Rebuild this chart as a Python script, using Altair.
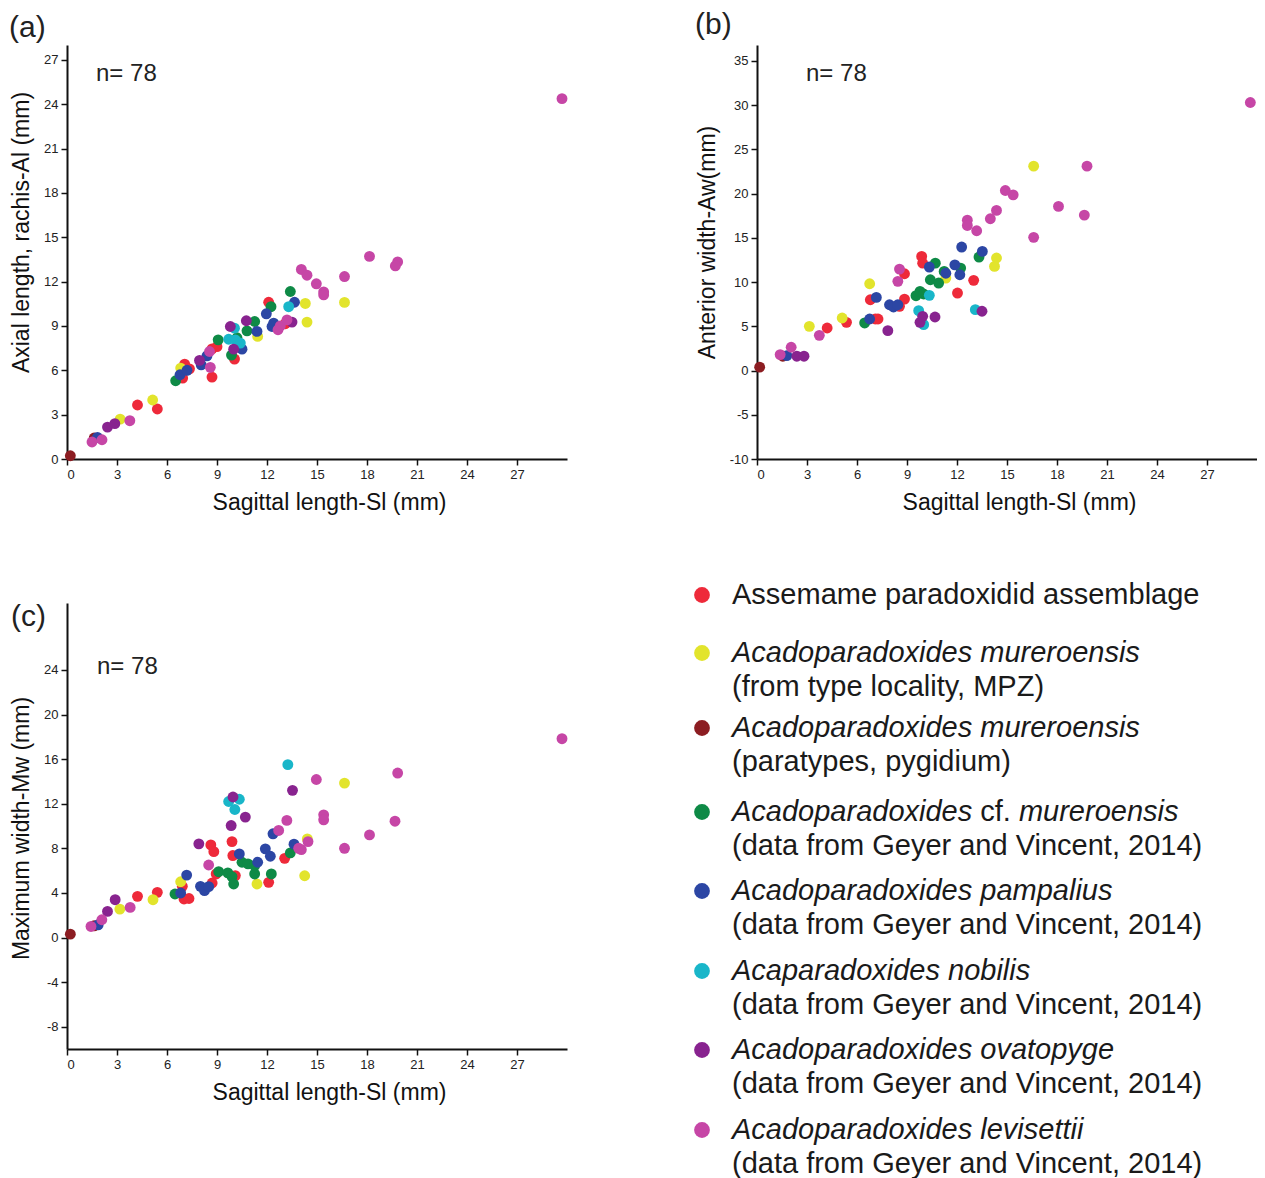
import altair as alt
import pandas as pd

# ---------------- categories ----------------
CATEGORIES = [
    "Assemame paradoxidid assemblage",
    "A. mureroensis (MPZ)",
    "A. mureroensis (paratypes)",
    "A. cf. mureroensis",
    "A. pampalius",
    "A. nobilis",
    "A. ovatopyge",
    "A. levisettii",
]
COLORS = ["#ee2a3a", "#e2e42c", "#8c1d22", "#0e8a46", "#2c46a4", "#19b6c9", "#88238f", "#c646a6"]

# ---------------- panel (a): Sl vs Al (per category) ----------------
A_SL = [
    [4.23, 5.42, 6.94, 7.06, 7.35, 8.7, 9.0, 8.7, 10.05, 12.1, 13.1],
    [3.19, 5.14, 6.82, 11.44, 14.3, 14.4, 16.65],
    [0.2, 1.63],
    [6.52, 9.07, 9.87, 10.8, 11.26, 12.24, 13.4, 10.2],
    [1.83, 6.78, 7.2, 8.05, 8.4, 10.5, 11.4, 11.96, 12.3, 12.4, 13.65],
    [9.7, 10.05, 10.1, 10.4, 13.3],
    [2.43, 2.87, 7.95, 9.8, 10.0, 10.76, 13.5],
    [1.5, 2.1, 3.77, 8.55, 8.6, 12.66, 12.8, 13.2, 14.06, 14.4, 14.96, 15.4, 15.4,
     16.65, 18.15, 19.84, 19.7, 29.7],
]
A_AL = [
    [3.65, 3.38, 5.47, 6.42, 6.1, 7.45, 7.6, 5.54, 6.76, 10.6, 9.15],
    [2.7, 3.99, 6.15, 8.29, 10.52, 9.26, 10.59],
    [0.22, 1.42],
    [5.29, 8.06, 7.03, 8.67, 9.3, 10.3, 11.33, 8.2],
    [1.46, 5.7, 6.0, 6.37, 6.98, 7.43, 8.63, 9.82, 8.96, 9.19, 10.6],
    [8.1, 8.85, 8.06, 7.84, 10.3],
    [2.16, 2.39, 6.67, 8.96, 7.43, 9.35, 9.26],
    [1.15, 1.3, 2.59, 7.27, 6.2, 8.74, 9.0, 9.41, 12.82, 12.43, 11.85, 11.3, 11.1,
     12.34, 13.7, 13.33, 13.06, 24.37],
]

# ---------------- panel (b): Sl vs Aw ----------------
B_SL = [
    [4.21, 5.37, 7.1, 7.26, 6.8, 8.55, 8.85, 8.85, 9.88, 9.94, 12.03, 13.0],
    [3.14, 5.11, 6.76, 11.33, 14.37, 14.25, 16.6],
    [0.16, 1.55],
    [6.46, 9.54, 9.78, 10.0, 10.4, 10.7, 10.9, 11.23, 12.22, 13.32],
    [1.79, 6.76, 7.16, 7.95, 8.19, 8.45, 10.34, 11.33, 11.87, 12.17, 12.28, 13.52],
    [9.7, 10.34, 10.0, 13.1],
    [2.39, 2.82, 7.85, 9.78, 9.94, 10.68, 13.5],
    [1.39, 2.05, 3.74, 8.45, 8.55, 12.62, 12.62, 13.18, 14.0, 14.37, 14.9, 15.37,
     16.6, 18.09, 19.64, 19.8, 29.6],
]
B_AW = [
    [4.81, 5.45, 5.83, 5.83, 8.0, 7.26, 8.08, 10.94, 12.9, 12.14, 8.76, 10.2],
    [5.0, 5.94, 9.81, 10.45, 12.72, 11.77, 23.1],
    [0.38, 1.62],
    [5.38, 8.46, 8.95, 8.65, 10.26, 12.14, 9.89, 11.2, 11.58, 12.83],
    [1.69, 5.83, 8.27, 7.44, 7.18, 7.44, 11.7, 11.0, 11.95, 10.83, 13.96, 13.47],
    [6.77, 8.5, 5.19, 6.88],
    [1.62, 1.62, 4.51, 5.45, 6.13, 6.05, 6.7],
    [1.8, 2.63, 3.98, 10.08, 11.47, 17.0, 16.4, 15.8, 17.16, 18.1, 20.35, 19.86,
     15.06, 18.55, 17.57, 23.1, 30.3],
]

# ---------------- panel (c): Sl vs Mw ----------------
C_SL = [
    [4.23, 5.42, 6.92, 7.02, 7.32, 8.71, 8.63, 8.81, 8.95, 10.1, 9.9, 9.95, 12.1, 13.06],
    [3.17, 5.16, 6.82, 11.4, 14.42, 14.26, 16.65],
    [0.2, 1.63],
    [6.48, 9.1, 9.65, 9.9, 10.0, 10.5, 10.86, 11.26, 11.26, 12.26, 13.4],
    [1.87, 6.82, 7.18, 8.01, 8.25, 8.5, 10.34, 11.44, 11.9, 12.2, 12.36, 13.62],
    [9.7, 10.07, 10.34, 13.25],
    [2.43, 2.89, 7.91, 9.85, 9.96, 10.7, 13.53],
    [1.44, 2.09, 3.79, 8.5, 12.7, 13.19, 13.9, 14.06, 14.46, 14.96, 15.4, 15.4,
     16.65, 18.15, 19.68, 19.84, 29.7],
]
C_MW = [
    [3.69, 4.05, 4.59, 3.45, 3.5, 4.89, 8.3, 7.7, 5.7, 5.55, 8.6, 7.35, 4.95, 7.1],
    [2.55, 3.39, 5.0, 4.8, 8.84, 5.54, 13.85],
    [0.3, 1.05],
    [3.9, 5.9, 5.79, 5.46, 4.8, 6.75, 6.6, 6.45, 5.7, 5.7, 7.59],
    [1.14, 3.99, 5.6, 4.59, 4.2, 4.56, 7.5, 6.75, 7.95, 7.29, 9.3, 8.37],
    [12.2, 11.48, 12.4, 15.5],
    [2.34, 3.39, 8.4, 10.04, 12.6, 10.8, 13.2],
    [0.99, 1.59, 2.7, 6.5, 9.6, 10.5, 8.0, 7.88, 8.6, 14.17, 11.0, 10.55, 8.0,
     9.2, 10.43, 14.75, 17.83],
]

X_TICKS = [0, 3, 6, 9, 12, 15, 18, 21, 24, 27]
A_TICKS = [0, 3, 6, 9, 12, 15, 18, 21, 24, 27]
B_TICKS = [-10, -5, 0, 5, 10, 15, 20, 25, 30, 35]
C_TICKS = [-8, -4, 0, 4, 8, 12, 16, 20, 24]
N_LABEL = "n= 78"

# ---------------- legend text ----------------
LEGEND_LINES = [
    [[("Assemame paradoxidid assemblage", "normal")]],
    [[("Acadoparadoxides mureroensis", "italic")], [("(from type locality, MPZ)", "normal")]],
    [[("Acadoparadoxides mureroensis", "italic")], [("(paratypes, pygidium)", "normal")]],
    [[("Acadoparadoxides", "italic"), ("cf.", "normal"), ("mureroensis", "italic")],
     [("(data from Geyer and Vincent, 2014)", "normal")]],
    [[("Acadoparadoxides pampalius", "italic")], [("(data from Geyer and Vincent, 2014)", "normal")]],
    [[("Acaparadoxides nobilis", "italic")], [("(data from Geyer and Vincent, 2014)", "normal")]],
    [[("Acadoparadoxides ovatopyge", "italic")], [("(data from Geyer and Vincent, 2014)", "normal")]],
    [[("Acadoparadoxides levisettii", "italic")], [("(data from Geyer and Vincent, 2014)", "normal")]],
]

# ---------------- style / layout ----------------
FONT = "Liberation Sans"
PW = 500
LEG_FS = 29
LEG_ROW_Y = [-8, 50, 125, 209, 288, 368, 447, 527]   # legend row offsets (px)
LEG_LINE_GAP = 34
LEG_DOT_X = -55
LEG_TEXT_X = -25

# Arial advance widths (per 1000 em) for measuring legend segments
AW = {"A": 667, "c": 500, "a": 556, "d": 556, "o": 556, "p": 556, "r": 333, "x": 500,
      "i": 222, "e": 556, "s": 500, " ": 278, "f": 278, ".": 278}


def text_width(s, fs):
    return sum(AW.get(ch, 556) for ch in s) * fs / 1000.0


def scatter(sl, yv, ytitle, ydomain, yticks, height, label, label_xy, n_xy, title_y):
    rows = []
    for ci, (xs, ys) in enumerate(zip(sl, yv)):
        for x, y in zip(xs, ys):
            rows.append({"Sl": x, "V": y, "cat": CATEGORIES[ci]})
    df = pd.DataFrame(rows)
    pts = alt.Chart(df).mark_circle(size=118, opacity=1).encode(
        x=alt.X("Sl:Q", scale=alt.Scale(domain=[0, 30], nice=False, zero=False),
                axis=alt.Axis(values=X_TICKS, title="Sagittal length-Sl (mm)", titleX=262,
                              labelExpr="datum.value + ''")),
        y=alt.Y("V:Q", scale=alt.Scale(domain=ydomain, nice=False, zero=False),
                axis=alt.Axis(values=yticks, title=ytitle, titleY=title_y,
                              labelExpr="datum.value + ''")),
        color=alt.Color("cat:N", scale=alt.Scale(domain=CATEGORIES, range=COLORS), legend=None),
    )
    lab = alt.Chart(pd.DataFrame({"t": [label]})).mark_text(
        align="left", baseline="middle", fontSize=30, font=FONT, color="#222"
    ).encode(x=alt.value(label_xy[0]), y=alt.value(label_xy[1]), text="t:N")
    ntext = alt.Chart(pd.DataFrame({"t": [N_LABEL]})).mark_text(
        align="left", baseline="middle", fontSize=24, font=FONT, color="#222"
    ).encode(x=alt.value(n_xy[0]), y=alt.value(n_xy[1]), text="t:N")
    return alt.layer(pts, lab, ntext).properties(width=PW, height=height)


pa = scatter(A_SL, A_AL, "Axial length, rachis-Al (mm)", [0, 28], A_TICKS, 414,
             "(a)", (-58, -17), (29, 29), 187)
pb = scatter(B_SL, B_AW, "Anterior width-Aw(mm)", [-10, 36.8], B_TICKS, 414,
             "(b)", (-62, -20), (49, 29), 197)
pc = scatter(C_SL, C_MW, "Maximum width-Mw (mm)", [-10, 30], C_TICKS, 446,
             "(c)", (-56, 14), (30, 64), 225)

# legend panel
dot_rows, txt_rows = [], []
for i, lines in enumerate(LEGEND_LINES):
    y0 = LEG_ROW_Y[i]
    dot_rows.append({"px": LEG_DOT_X, "py": y0, "cat": CATEGORIES[i]})
    for li, segs in enumerate(lines):
        xpos = LEG_TEXT_X
        for (s, style) in segs:
            txt_rows.append({"px": xpos, "py": y0 + li * LEG_LINE_GAP, "text": s, "style": style})
            xpos += text_width(s + " ", LEG_FS)
dots_df = pd.DataFrame(dot_rows)
txt_df = pd.DataFrame(txt_rows)

ldots = alt.Chart(dots_df).mark_circle(size=250, opacity=1).encode(
    x=alt.X("px:Q", scale=None, axis=None),
    y=alt.Y("py:Q", scale=None, axis=None),
    color=alt.Color("cat:N", scale=alt.Scale(domain=CATEGORIES, range=COLORS), legend=None),
)
ltext_n = alt.Chart(txt_df).transform_filter(alt.datum.style == "normal").mark_text(
    align="left", baseline="middle", fontSize=LEG_FS, font=FONT, color="#1a1a1a"
).encode(x=alt.X("px:Q", scale=None, axis=None), y=alt.Y("py:Q", scale=None, axis=None), text="text:N")
ltext_i = alt.Chart(txt_df).transform_filter(alt.datum.style == "italic").mark_text(
    align="left", baseline="middle", fontSize=LEG_FS, font=FONT, fontStyle="italic", color="#1a1a1a"
).encode(x=alt.X("px:Q", scale=None, axis=None), y=alt.Y("py:Q", scale=None, axis=None), text="text:N")
leg = alt.layer(ldots, ltext_n, ltext_i).properties(width=PW, height=446)

chart = alt.concat(
    pa, pb, pc, leg, columns=2,
    spacing={"row": 144, "column": 190}, bounds="flush",
).resolve_scale(x="independent", y="independent").properties(
    padding={"top": 2, "left": 1, "right": 0, "bottom": 0}
).configure(font=FONT).configure_view(stroke=None).configure_axis(
    grid=False, domainColor="#111", domainWidth=2, tickColor="#111", tickWidth=1.5,
    tickSize=6, labelFontSize=13, labelColor="#222", labelPadding=3,
    titleFontSize=23, titleFontWeight="normal", titleColor="#111", titlePadding=10,
    labelFont=FONT, titleFont=FONT,
)

chart.save("out.html", embed_options={"renderer": "svg", "actions": False})
